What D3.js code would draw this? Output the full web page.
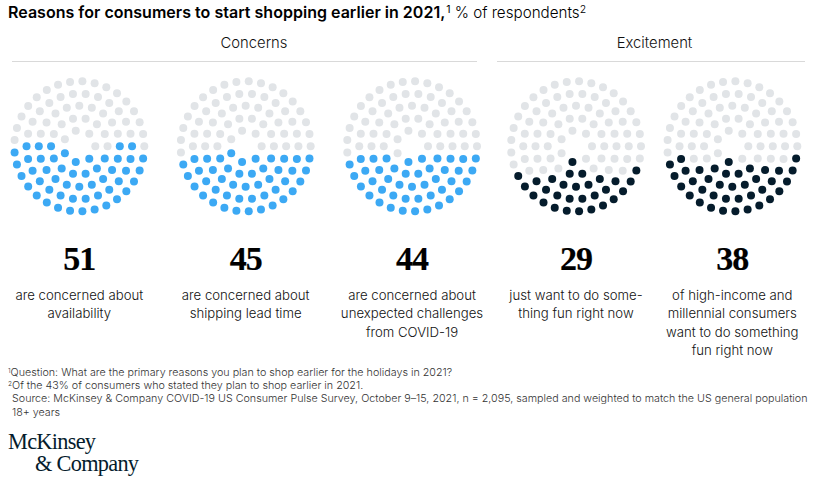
<!DOCTYPE html>
<html><head><meta charset="utf-8">
<script src="https://cdn.jsdelivr.net/npm/d3@7"></script>
<style>
html,body{margin:0;padding:0;background:#fff}
svg{display:block}
text{font-family:Inter,Roboto,sans-serif}
</style></head><body>
<svg id="c" width="817" height="481"></svg>
<script>
// ---- data ----
const concernPanels = ["availability","shipping","covid"];
const excitementPanels = ["fun","highIncome"];
const values = [51,45,44,29,38];
const ringCounts = [7,14,20,26,33];
// first and last filled dot of each ring (inner to outer), per panel
const fillAvailability = [[1,3],[1,7],[0,10],[0,13],[1,16]];
const fillShipping     = [[1,3],[1,6],[1,9],[1,12],[1,15]];
const fillCovid        = [[1,2],[1,6],[1,9],[1,12],[1,15]];
const fillFun          = [[2,2],[3,4],[3,7],[3,10],[2,14]];
const fillHighIncome   = [[2,2],[2,5],[2,8],[2,12],[1,15]];
const labelLines = [
  ["are concerned about","availability"],
  ["are concerned about","shipping lead time"],
  ["are concerned about","unexpected challenges","from COVID-19"],
  ["just want to do some-","thing fun right now"],
  ["of high-income and","millennial consumers","want to do something","fun right now"]
];
const groupNames = ["Concerns","Excitement"];
const footnotes = [
  {sup:"1",text:"Question: What are the primary reasons you plan to shop earlier for the holidays in 2021?"},
  {sup:"2",text:"Of the 43% of consumers who stated they plan to shop earlier in 2021."},
  {sup:"",text:"Source: McKinsey & Company COVID-19 US Consumer Pulse Survey, October 9\u201315, 2021, n = 2,095, sampled and weighted to match the US general population"},
  {sup:"",text:"18+ years"}
];

// ---- layout ----
const svg = d3.select("#c");
const DEEP="#051C2C", BLUE="#3CA9F4", GRAY="#E1E4E7", RULE="#D9D9D9";
const panelIds=[...concernPanels,...excitementPanels];
const fills=[fillAvailability,fillShipping,fillCovid,fillFun,fillHighIncome];
const colors=[BLUE,BLUE,BLUE,DEEP,DEEP];
const xConcern=d3.scalePoint().domain(concernPanels).range([79.3,412]);
const xExcite=d3.scalePoint().domain(excitementPanels).range([576,732.3]);
const cx=id=>concernPanels.includes(id)?xConcern(id):xExcite(id);
const cy=146.3;
const rScale=d3.scaleLinear().domain([0,ringCounts.length-1]).range([16,65]);

// title
const title=svg.append("text").attr("x",8).attr("y",18).attr("font-size",16).attr("fill","#000");
title.append("tspan").attr("font-weight",600).attr("letter-spacing",0.02).text("Reasons for consumers to start shopping earlier in 2021,");
title.append("tspan").attr("font-size",10.5).attr("dy",-5.5).attr("dx",1).text("1");
title.append("tspan").attr("dy",5.5).attr("dx",4).attr("font-size",15.2).attr("font-weight",300).text("% of respondents");
title.append("tspan").attr("font-size",10.5).attr("font-weight",300).attr("dy",-5.5).text("2");

// group heads
const heads=[{n:groupNames[0],x:254,x1:12,x2:477},{n:groupNames[1],x:654.5,x1:497,x2:805}];
svg.selectAll(".head").data(heads).join("text").attr("class","head")
  .attr("x",d=>d.x).attr("y",48).attr("text-anchor","middle").attr("font-size",14.8).attr("font-weight",300).attr("fill","#111").text(d=>d.n);
svg.selectAll(".rule").data(heads).join("line").attr("class","rule")
  .attr("x1",d=>d.x1).attr("x2",d=>d.x2).attr("y1",61.5).attr("y2",61.5).attr("stroke",RULE);

// dots
panelIds.forEach((id,p)=>{
  const g=svg.append("g").attr("transform",`translate(${cx(id)},${cy})`);
  const dots=ringCounts.flatMap((n,ri)=>d3.range(n).map(k=>{
    const a=2*Math.PI*k/n, r=rScale(ri), [s,e]=fills[p][ri];
    return {x:r*Math.cos(a),y:r*Math.sin(a),on:k>=s&&k<=e};
  }));
  g.selectAll("circle").data(dots).join("circle")
    .attr("cx",d=>d.x).attr("cy",d=>d.y).attr("r",4)
    .attr("fill",d=>d.on?colors[p]:GRAY);
  svg.append("text").attr("x",cx(id)).attr("y",270).attr("text-anchor","middle")
    .style("font-family","'Liberation Serif',serif")
    .attr("font-weight",700).attr("font-size",34).attr("letter-spacing",-1).attr("stroke","#000").attr("stroke-width",0.2).attr("fill","#000").text(values[p]);
  labelLines[p].forEach((t,i)=>{
    svg.append("text").attr("x",cx(id)).attr("y",299.5+i*18.5).attr("text-anchor","middle")
      .attr("font-size",13.2).attr("font-weight",300).attr("fill","#111").text(t);
  });
});

// footnotes
footnotes.forEach((f,i)=>{
  const t=svg.append("text").attr("x",8).attr("y",376+i*13.2).attr("font-size",10.72).attr("font-weight",300).attr("fill","#333");
  if(f.sup){t.append("tspan").attr("font-size",6.5).attr("dy",-3).text(f.sup);t.append("tspan").attr("dy",3).text(f.text);}
  else t.append("tspan").attr("dx",4).text(f.text);
});

// logo
[["McKinsey",8,449],["& Company",35,471]].forEach(([s,x,y])=>{
  svg.append("text").attr("x",x).attr("y",y).style("font-family","'Liberation Serif',serif")
    .attr("font-size",22.3).attr("letter-spacing",-0.7).attr("fill",DEEP).text(s);
});
</script>
</body></html>
